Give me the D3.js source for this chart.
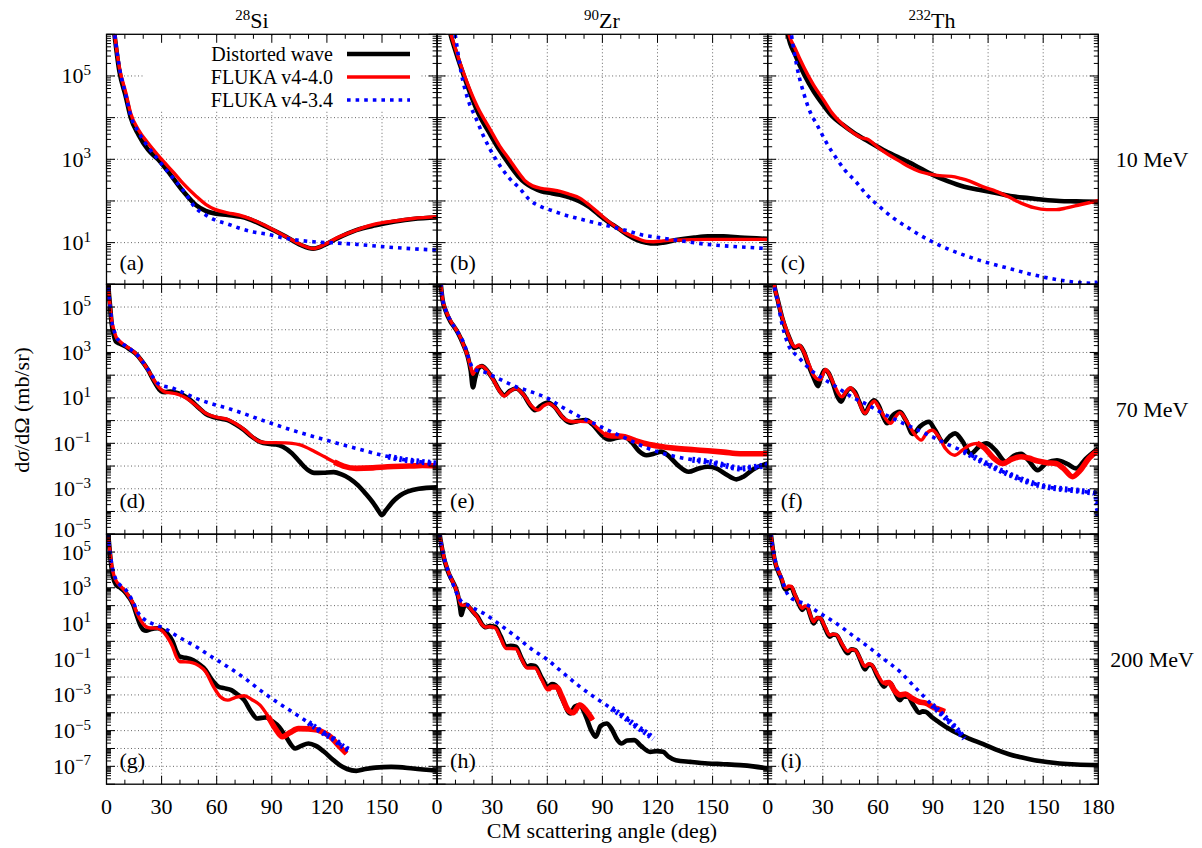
<!DOCTYPE html>
<html>
<head>
<meta charset="utf-8">
<script src="https://cdn.jsdelivr.net/npm/d3@7"></script>
<style>
  body { margin: 0; background: #fff; }
  svg { display: block; }
  text { font-family: "Liberation Serif", "DejaVu Serif", serif; fill: #000; }
</style>
</head>
<body>
<svg id="chart" width="1202" height="848" font-family="Liberation Serif, DejaVu Serif, serif"></svg>
<script>
// Elastic differential cross sections, dσ/dΩ (mb/sr) vs CM angle (deg)
// Each series: [angle, value]

// ---- 28Si, 10 MeV ----
const si10Dw = [[1.5,1e7],[4,1.3e6],[7,1.3e5],[10.5,3.2e4],[13.2,1.0e4],[17.4,3.9e3],[22.6,1.7e3],[28,1.0e3],[34.8,4.3e2],[41.8,1.7e2],[48.8,79],[54,58],[59,50],[66,46],[76.7,38],[87,24],[97.6,14],[106,8.7],[112.6,7.2],[118.5,8.7],[125.5,12.6],[136,20],[146.5,26],[157,32],[167,37],[180,40]];
const si10V40 = [[1.5,1e7],[4,1.4e6],[7,1.6e5],[10.5,4.0e4],[13.2,1.26e4],[17.4,5.1e3],[22.6,2.45e3],[28,1.26e3],[31.4,8.5e2],[36.6,4.8e2],[41.8,2.6e2],[48.8,1.3e2],[54,83],[59,63],[66,52],[72,46],[80,35],[87,25],[97.6,14],[106,8.9],[112.6,7.2],[118.5,8.9],[125.5,13],[136,20],[146.5,28],[157,33],[167,38],[180,42]];
const si10V34 = [[1.5,1e7],[4,1.4e6],[7,1.6e5],[10.5,3.5e4],[13.2,1.1e4],[17.4,4.5e3],[22.6,2.0e3],[28,1.0e3],[34.8,4.2e2],[41.8,1.8e2],[48.8,66],[54,46],[59,35],[66,28],[72.6,22],[80,18],[87,16],[97.6,12.6],[112.6,10.5],[125,9.8],[136,9.1],[157,7.6],[180,6.6]];

// ---- 90Zr, 10 MeV ----
const zr10Dw = [[3,1e7],[7.3,1e6],[10,4e5],[15,8.9e4],[22,1.4e4],[29,3.9e3],[34,1.66e3],[39.4,7.4e2],[44,4.0e2],[48,2.7e2],[52,2.1e2],[56.8,1.7e2],[62,1.55e2],[67,1.4e2],[72,1.23e2],[77.7,98],[83,71],[88,47],[93,32],[98.6,22],[104,15],[109,11.5],[114,10],[117.8,9.5],[123,10],[130,11.5],[140,13.2],[147.4,14.1],[156,14.1],[165,13.2],[180,12.3]];
const zr10V40 = [[3,1e7],[7.3,1.1e6],[10,4.5e5],[15,1e5],[22,1.8e4],[29,5.1e3],[34,2.1e3],[39.4,9.8e2],[44,5.0e2],[48,3.0e2],[52,2.3e2],[56.8,2.0e2],[62,1.86e2],[67,1.7e2],[72,1.45e2],[77.7,1.17e2],[83,79],[88,51],[93,33],[98.6,22],[104,15.8],[109,12.6],[114,10.7],[117.8,10.5],[123,11],[130,11.5],[147,12],[165,12],[180,12]];
const zr10V34 = [[5,1e7],[9.8,1e6],[13,1.26e5],[16.7,2.8e4],[21,1e4],[25.4,3.5e3],[32,1.0e3],[39.4,3.5e2],[45,2.0e2],[50,1.1e2],[56.8,72],[62,60],[69,47],[77.7,37],[86,30],[95,24],[104,19],[112.6,15],[121,13.2],[130,11.5],[147,9.1],[165,7.9],[180,7.2]];

// ---- 232Th, 10 MeV ----
const th10Dw = [[8,1e7],[11,1e6],[15,3.2e5],[19.9,1.07e5],[25,4.3e4],[30.3,2.0e4],[35,1.1e4],[40.8,6.8e3],[47,4.3e3],[54.7,2.7e3],[63,1.66e3],[72,1.07e3],[80,7.2e2],[89.6,4.3e2],[98,3.0e2],[107,2.2e2],[115,1.86e2],[124.4,1.55e2],[133,1.3e2],[142,1.17e2],[150,1.07e2],[159,1.0e2],[168,98],[180,95]];
const th10V40 = [[8,1e7],[11,1.26e6],[15,4.5e5],[19.9,1.55e5],[25,6.0e4],[30.3,2.7e4],[35,1.3e4],[40.8,6.9e3],[47,4.2e3],[51,3.3e3],[54.7,3.0e3],[58,2.3e3],[61.7,1.7e3],[67,1.2e3],[72,8.9e2],[77,6.6e2],[82.6,5.1e2],[89.6,4.3e2],[95,4.0e2],[100,3.9e2],[105,3.5e2],[110,3.0e2],[117,2.2e2],[124.4,1.7e2],[131,1.26e2],[138,89],[145,69],[152,62],[157,62],[162.7,68],[170,81],[180,1.02e2]];
const th10V34 = [[10,1e7],[12.9,1e6],[16,1.6e5],[19.9,3.5e4],[23,1.4e4],[26.8,6.8e3],[32,2.5e3],[37.3,1.07e3],[42,5.5e2],[47.7,3.0e2],[54,1.4e2],[61.7,68],[68,40],[75.6,24],[82,16],[89.6,10.5],[98,7.1],[107,5.0],[115,3.8],[124.4,2.9],[133,2.3],[142,1.8],[150,1.5],[159,1.26],[168,1.12],[178,1.05],[180,1.05]];

// ---- 28Si, 70 MeV ----
const si70Dw = [[0.5,1e7],[1,1e6],[2,1e5],[2.8,1.9e4],[4,5.6e3],[5.2,3.0e3],[7,2.5e3],[10.5,1.8e3],[13,1.3e3],[15.7,9.1e2],[19,4.5e2],[22.6,1.7e2],[26,52],[29.6,20],[32,18],[34.8,19],[38,17],[41.8,13],[46,7.6],[50.5,3.5],[54,2.0],[57.5,1.5],[61,1.26],[66,1.05],[70,0.71],[75,0.38],[79,0.2],[83.6,0.117],[88,0.095],[92.3,0.089],[96,0.071],[101,0.036],[105,0.016],[109.8,6.6e-3],[113,5.0e-3],[118,5.1e-3],[123.7,5.4e-3],[128,4.3e-3],[132.4,2.8e-3],[137,1.4e-3],[141,6.2e-4],[145,2.5e-4],[148,1.1e-4],[150,6.9e-5],[152,1.1e-4],[156.8,3.2e-4],[160,5.2e-4],[163.8,7.4e-4],[170,1.0e-3],[180,1.15e-3]];
const si70V40 = [[0.5,1e7],[1,1e6],[2,1e5],[2.8,2.5e4],[4,1e4],[5.2,4.9e3],[7,3.2e3],[10.5,1.9e3],[13,1.4e3],[15.7,9.5e2],[19,4.5e2],[22.6,1.7e2],[26,58],[29.6,24],[32,18],[34.8,16.6],[38,15],[41.8,11.5],[46,7.1],[50.5,3.5],[54,2.1],[57.5,1.6],[61,1.35],[66,1.12],[70,0.76],[75,0.4],[79,0.21],[83.6,0.117],[88,0.107],[92,0.107],[97,0.105],[101,0.1],[105,0.087],[108,0.071],[113,0.045],[118.5,0.026],[124,0.015],[129,0.01],[136,7.9e-3],[145,8.3e-3],[153,9.3e-3],[165,1.0e-2],[172,1.05e-2],[180,1.0e-2]];
const si70V34 = [[0.5,1e7],[1,1e6],[2,1e5],[2.8,2.5e4],[4,1e4],[5.2,5e3],[7,3.2e3],[10.5,1.9e3],[13,1.4e3],[15.7,9.5e2],[19,4.7e2],[22.6,1.8e2],[25,89],[27.9,44],[31,33],[34.8,29],[41,18],[48.8,9.5],[57,5.6],[66,3.5],[75,2.0],[83.6,1.12],[92,0.66],[101,0.38],[110,0.23],[118.5,0.148],[127,0.093],[136,0.06],[145,0.038],[153.4,0.026],[162,0.019],[170.8,0.0155],[180,0.0129]];

// ---- 90Zr, 70 MeV ----
const zr70Dw = [[1,6.3e6],[2,1e6],[3,2e5],[4.5,7.4e4],[7.3,2.3e4],[9.5,1.26e4],[11.5,6.9e3],[14,2.5e3],[16.7,6.5e2],[18.3,1.6e2],[19.5,29],[20.8,79],[22.5,2.0e2],[24.4,2.5e2],[27,1.66e2],[30.7,62],[34,21],[36.6,13],[39.5,20],[42.9,26],[47,14],[50.5,5],[53.3,2.9],[56.5,4.5],[60.3,6.2],[64,4],[68,1.5],[72.5,0.81],[76.5,0.95],[81.2,1.05],[85,0.63],[89.5,0.24],[93.4,0.148],[97.5,0.17],[102,0.195],[106,0.11],[110,0.045],[114,0.03],[118,0.035],[122,0.043],[126,0.028],[131,0.011],[137,5.6e-3],[142,7.6e-3],[147.4,9.3e-3],[152,7.9e-3],[157,4.5e-3],[163,2.6e-3],[167,3.5e-3],[172,7.1e-3],[180,0.0129]];
const zr70V40 = [[1,6.3e6],[2,1e6],[3,2.2e5],[4.5,7.9e4],[7.3,2.5e4],[9.5,1.3e4],[11.5,7.2e3],[14,2.6e3],[16.7,6.6e2],[18.3,2.2e2],[19.5,1.1e2],[21,1.8e2],[22.5,2.4e2],[24.4,2.5e2],[27,1.66e2],[30.7,60],[34,20],[36.6,12],[39.5,19],[42.9,26],[47,14],[51,4.8],[55,2.9],[58,4.5],[61,5.6],[65,3.2],[69,1.26],[74,0.89],[78,0.93],[83,0.89],[87,0.5],[91,0.26],[95,0.21],[99,0.21],[102,0.195],[107,0.14],[112.6,0.1],[120,0.076],[130,0.06],[140,0.052],[147.4,0.047],[156,0.041],[165,0.035],[172,0.035],[180,0.035]];
const zr70V34 = [[1,6.3e6],[2,1e6],[3,2.2e5],[4.5,7.9e4],[7.3,2.5e4],[9.5,1.3e4],[11.5,7.2e3],[15,2.1e3],[17,6.3e2],[19.5,2.0e2],[22,1.6e2],[25.4,1.4e2],[30,95],[36,56],[42.9,31],[50,20],[60.3,9.5],[68,4.0],[77.7,1.48],[86,0.71],[95,0.32],[104,0.15],[112.6,0.071],[121,0.04],[130,0.026],[139,0.019],[147.4,0.0155],[156,0.011],[165,7.8e-3],[172,8.9e-3],[180,0.011]];

// ---- 232Th, 70 MeV ----
const th70Dw = [[2,1e7],[3.5,1e6],[5.5,2e5],[7.7,3.8e4],[10,1e4],[11.5,5e3],[13,2.5e3],[14.5,1.58e3],[16,1.78e3],[17.5,1.9e3],[19.5,1.12e3],[22.6,2.3e2],[25,79],[27.5,33],[29,79],[31,1.7e2],[33,1.3e2],[35.5,44],[38,11.2],[40,6.8],[42,14],[45,26],[47.5,18],[50,6.3],[53,2.1],[55.5,5.0],[58,7.9],[60.5,4.5],[63,1.41],[65,0.76],[68,1.66],[72,2.45],[75,1.12],[79,0.26],[83,0.56],[87.8,0.89],[91,0.4],[95.8,0.11],[99,0.2],[102,0.275],[106,0.126],[110.5,0.035],[115,0.071],[119,0.1],[124,0.05],[129.6,0.0155],[134,0.028],[138,0.035],[142,0.0178],[147,6.6e-3],[152,0.0141],[157.5,0.018],[163,0.0126],[168,7.8e-3],[173,0.02],[180,0.06]];
const th70V40 = [[2,1e7],[3.5,1e6],[5.5,2e5],[7.7,4e4],[10,1.12e4],[12,4e3],[13.5,2.24e3],[15,1.78e3],[17,2.14e3],[19.5,1.12e3],[22.6,2.8e2],[25,1e2],[28.6,62],[31.5,1.78e2],[33.5,1.12e2],[36,40],[40.4,11.2],[43,20],[45,28],[48,14],[53,2.1],[55.5,4.2],[58,7.1],[61,3.2],[66.9,0.76],[69.5,1.41],[72,2.24],[75.5,1.0],[80,0.25],[83.6,0.138],[86.5,0.28],[89.6,0.38],[93,0.2],[97,0.056],[101.8,0.03],[106,0.05],[110,0.083],[114,0.1],[118,0.063],[123,0.0224],[128,0.0129],[133,0.02],[138,0.0257],[142,0.0224],[147,0.0166],[152,0.0141],[157,0.0129],[161,7.9e-3],[166,3.4e-3],[170,6.3e-3],[175,0.0224],[180,0.05]];
const th70V34 = [[2,1e7],[3.5,1e6],[5.5,1.6e5],[7.7,1.9e4],[10,4e3],[12,1.58e3],[14,1e3],[16.4,6.5e2],[20,3.2e2],[23.4,1.7e2],[30,71],[37.3,31],[45,12],[54.7,4.8],[63,2.0],[72,0.89],[80,0.45],[89.6,0.195],[98,0.089],[107,0.043],[115,0.019],[124.4,7.8e-3],[133,3.8e-3],[142,2.0e-3],[150,1.3e-3],[159,1.0e-3],[166,8.7e-4],[173,7.4e-4],[178,6.3e-4],[179.5,2.5e-4],[180,6e-5]];

// ---- 28Si, 200 MeV ----
const si200Dw = [[0.5,1e7],[1,1e6],[1.7,1.3e5],[2.5,2e4],[3.5,4.3e3],[5.2,1.45e3],[7.5,1e3],[9.8,6.2e2],[12,3.2e2],[14.6,1.1e2],[16.5,28],[18,10.2],[20,4.5],[21.6,4.0],[24,4.8],[27.9,5.4],[30.5,4.2],[33,2.8],[36,1.0],[38,0.28],[40,0.138],[43,0.12],[47,0.089],[50,0.056],[54,0.0245],[57,7.9e-3],[61,2.9e-3],[64,2.4e-3],[68,1.86e-3],[71,1.12e-3],[75,5.1e-4],[78.5,1.26e-4],[82,4.8e-5],[84.5,5.2e-5],[87,5.5e-5],[90,3.5e-5],[94,1.6e-5],[98,4.0e-6],[102.8,1.0e-6],[106,1.4e-6],[110,1.9e-6],[114,1.4e-6],[118.5,6.5e-7],[123,2.5e-7],[127,1.17e-7],[131,7.1e-8],[136,5.6e-8],[141,7.1e-8],[146.4,8.5e-8],[155,9.3e-8],[167,7.6e-8],[180,5.6e-8]];
const si200V40 = [[0.5,1e7],[1,1e6],[1.7,1.6e5],[2.5,3.2e4],[3.5,7.9e3],[5.2,2.5e3],[7.5,1.26e3],[9.8,7.1e2],[12,3.5e2],[14.6,1.26e2],[16.5,40],[18,19.5],[21.6,6.6],[24,5.6],[27.9,5.4],[30.5,3.8],[33,1.82],[36,0.5],[38,0.141],[40,0.072],[43,0.071],[47,0.063],[50,0.045],[54,0.02],[58,3.2e-3],[62,7.9e-4],[66,5.1e-4],[70,7.1e-4],[75,8.9e-4],[79,5.6e-4],[83.6,2.7e-4],[88,6.3e-5],[92,1.26e-5],[95.8,4.5e-6],[100,7.9e-6],[104.5,1.3e-5],[110,1.26e-5],[115,1.07e-5],[119,7.1e-6],[122,4.5e-6],[126,1.6e-6],[130.7,5.2e-7]];
const si200V34 = [[0.5,1e7],[1,1e6],[1.7,1.6e5],[2.5,3.5e4],[3.5,1e4],[5.2,2.8e3],[7.5,1.4e3],[10.5,7.6e2],[14,2.0e2],[17.4,37],[21,15.8],[26,8.9],[31.4,5.4],[40,1.58],[48.8,0.5],[57,0.141],[66,0.038],[75,8.9e-3],[83.6,1.86e-3],[92,4.5e-4],[101,1.15e-4],[110,2.8e-5],[118.5,6.9e-6],[124,3.2e-6],[129,1.23e-6],[132.4,7.9e-7]];

// ---- 90Zr, 200 MeV ----
const zr200Dw = [[0.5,1e7],[1.4,1e6],[2.5,2e5],[3.5,5.6e4],[5,1.6e4],[6.3,6.5e3],[8,2.8e3],[9.8,1.17e3],[11.5,3.2e2],[12.5,79],[13.2,30],[14,56],[15,1e2],[16,1.1e2],[18,71],[20,40],[22,24],[24.5,8.9],[26.5,6.2],[28.5,7.1],[31.7,6.6],[34.5,2.0],[37.6,0.5],[40,0.56],[42.9,0.5],[46,0.112],[49,0.038],[51,0.045],[53.3,0.042],[57,8.9e-3],[60.3,2.9e-3],[62.5,4.0e-3],[64.5,3.5e-3],[68,6.3e-4],[72.5,9.1e-5],[75,2.24e-4],[77.7,2.7e-4],[81,6.3e-5],[84,1e-5],[86.4,4.5e-6],[89,1.8e-5],[92.3,2.5e-5],[95,1.26e-5],[98,3.2e-6],[100.4,1.9e-6],[103.5,2.8e-6],[107.3,2.95e-6],[111,1.4e-6],[116,6.5e-7],[119.5,7.1e-7],[123,6.5e-7],[126,3.5e-7],[130,2.2e-7],[138,1.78e-7],[147.4,1.45e-7],[156,1.32e-7],[165,1.17e-7],[172,1e-7],[180,7.6e-8]];
const zr200V40 = [[0.5,1e7],[1.4,1e6],[2.5,2.2e5],[3.5,6.3e4],[5,1.8e4],[6.3,7.1e3],[8,2.8e3],[9.8,1.17e3],[11.5,3.5e2],[13,1.1e2],[14,1.05e2],[16,1.1e2],[18,71],[20,40],[22,22],[24.5,8.3],[26.5,6.2],[28.5,6.6],[31.7,5.6],[34.5,1.58],[37.6,0.4],[40,0.4],[42.9,0.38],[46,0.1],[49,0.032],[51,0.032],[53.3,0.032],[57,7.1e-3],[60.3,1.9e-3],[62.5,2.8e-3],[65,2.8e-3],[68,7.9e-4],[71,1.6e-4],[74,1e-4],[77.7,2.7e-4],[81,1.4e-4],[84.7,3.9e-5]];
const zr200V34 = [[0.5,1e7],[1.4,1e6],[2.5,2e5],[3.5,6.3e4],[5,1.8e4],[6.3,7.1e3],[8,2.5e3],[9.8,7.9e2],[11.5,3.2e2],[13.5,1.6e2],[16.7,1.1e2],[20,71],[25.4,37],[34,8.9],[42.9,1.82],[51,0.4],[60.3,0.089],[69,0.0158],[77.7,2.9e-3],[86,7.1e-4],[95,1.74e-4],[102,5.6e-5],[109,1.6e-5],[114,7.1e-6],[117.8,3.6e-6]];

// ---- 232Th, 200 MeV ----
const th200Dw = [[0.5,1e7],[1.7,1e6],[3,1e5],[4.2,2.3e4],[6,7.1e3],[7.7,2.75e3],[9,1e3],[10,7.6e2],[11.5,1e3],[12.9,1.07e3],[14.5,4.5e2],[16.4,1.66e2],[18.8,58],[20.3,83],[21.6,81],[23,32],[25,10.2],[27,20],[28.6,19.5],[31,6.3],[33.8,1.82],[35.5,2.4],[37.3,2.3],[40.5,0.63],[43.6,0.214],[45.5,0.355],[47.7,0.324],[50.5,0.089],[53,0.027],[55,0.05],[56.5,0.047],[60,0.01],[63.4,2.9e-3],[65.3,5.0e-3],[67,4.4e-3],[69.5,1.26e-3],[72,5.1e-4],[74,8.3e-4],[76.3,7.9e-4],[79.5,2.5e-4],[82.6,1e-4],[84.5,1.2e-4],[86,1.15e-4],[89.5,5.6e-5],[93,3.1e-5],[98,1.4e-5],[103.5,6.9e-6],[110,3.5e-6],[117.4,1.74e-6],[124,8.9e-7],[131.4,4.8e-7],[138,3.2e-7],[145.3,2.2e-7],[152,1.74e-7],[159,1.45e-7],[168,1.26e-7],[180,1.17e-7]];
const th200V40 = [[0.5,1e7],[1.7,1e6],[3,1.12e5],[4.2,2.5e4],[6,7.9e3],[7.7,3.2e3],[9,1.26e3],[10,1e3],[11.5,1.26e3],[12.9,1.2e3],[14.5,5e2],[16.4,1.9e2],[18.8,71],[20.3,95],[21.6,89],[23,35],[25,12.6],[27,21],[28.6,20],[31,7.1],[33.8,2.24],[35.5,2.5],[37.3,2.4],[40.5,0.71],[43.6,0.28],[45.5,0.355],[47.7,0.316],[50.5,0.1],[53,0.04],[55,0.056],[56.5,0.05],[60,0.0126],[63.4,4.5e-3],[66,5.0e-3],[69,1.78e-3],[72,1e-3],[75,1.12e-3],[78,7.1e-4],[82.6,4e-4],[86,3.5e-4],[89.6,2.2e-4],[93,1.58e-4],[96.5,1.15e-4]];
const th200V34 = [[0.5,1e7],[1.7,1e6],[3,1.26e5],[4.2,3.2e4],[6,7.9e3],[7.7,2.8e3],[9.4,9.3e2],[11,4e2],[12.9,2.6e2],[16,1.8e2],[19.9,1.35e2],[28,40],[37.3,10.2],[46,2.24],[54.7,0.5],[63,0.105],[72,0.02],[80,2.8e-3],[89.6,2.7e-4],[95,7.9e-5],[100,2.5e-5],[104,8.9e-6],[107,3.6e-6]];

// Angle above which the Monte Carlo curves get statistically rough
// [FLUKA v4-4.0, FLUKA v4-3.4], per panel
const roughFrom = [
  [181, 181], [181, 181], [181, 181],
  [128, 150], [95, 135], [118, 110],
  [90, 108], [62, 95], [66, 88]
];

// ---- labels ----
const nuclei = [{mass: "28", sym: "Si"}, {mass: "90", sym: "Zr"}, {mass: "232", sym: "Th"}];
const energies = ["10 MeV", "70 MeV", "200 MeV"];
const panelTags = ["(a)", "(b)", "(c)", "(d)", "(e)", "(f)", "(g)", "(h)", "(i)"];
const seriesNames = ["Distorted wave", "FLUKA v4-4.0", "FLUKA v4-3.4"];
const rowDomains = [[1, 1e6], [1e-5, 1e6], [1e-8, 1e6]];
const rowLabelExps = [[5, 3, 1], [5, 3, 1, -1, -3, -5], [5, 3, 1, -1, -3, -5, -7]];
const xTickLabels = [0, 30, 60, 90, 120, 150, 180];

const panelData = [
  [si10Dw, si10V40, si10V34], [zr10Dw, zr10V40, zr10V34], [th10Dw, th10V40, th10V34],
  [si70Dw, si70V40, si70V34], [zr70Dw, zr70V40, zr70V34], [th70Dw, th70V40, th70V34],
  [si200Dw, si200V40, si200V34], [zr200Dw, zr200V40, zr200V34], [th200Dw, th200V40, th200V34]
];

// ---- layout ----
const svg = d3.select("#chart");
const plotLeft = 106.5, colW = 330.6;
const rowBox = [[34.3, 284.3], [284.3, 534.2], [534.2, 784.2]];
const titleX = [252, 602, 932];
const tagBaseline = [270, 508, 768];
const FS = 22;

const styles = [
  {stroke: "#000", width: 4.6, dash: null},
  {stroke: "#f00", width: 3.4, dash: null},
  {stroke: "#00f", width: 3.6, dash: "3.6,5"}
];

const sup = (sel, base, exp, size) => {
  sel.append("tspan").text(base);
  sel.append("tspan").attr("dy", -8.5).attr("font-size", size).text(exp);
};

const defs = svg.append("defs");
const gridLayer = svg.append("g");
const legendLayer = svg.append("g");
const curveLayer = svg.append("g");
const axisLayer = svg.append("g");

const xs = [], ys = [];
for (let c = 0; c < 3; c++) {
  xs.push(d3.scaleLinear().domain([0, 180]).range([plotLeft + c * colW, plotLeft + (c + 1) * colW]));
}
for (let r = 0; r < 3; r++) {
  ys.push(d3.scaleLog().domain(rowDomains[r]).range([rowBox[r][1], rowBox[r][0]]));
}

for (let r = 0; r < 3; r++) {
  const y = ys[r];
  const [lo, hi] = rowDomains[r].map(v => Math.round(Math.log10(v)));
  for (let c = 0; c < 3; c++) {
    const x = xs[c];
    const x0 = x(0), x1 = x(180), y0 = y.range()[0], y1 = y.range()[1];
    const idx = r * 3 + c;

    // dotted grid
    for (let e = lo + 1; e < hi; e++) {
      gridLayer.append("line")
        .attr("x1", x0).attr("x2", x1).attr("y1", y(Math.pow(10, e))).attr("y2", y(Math.pow(10, e)))
        .attr("stroke", "#666").attr("stroke-width", 1).attr("stroke-dasharray", "1,2.5");
    }
    for (let a = 30; a < 180; a += 30) {
      gridLayer.append("line")
        .attr("x1", x(a)).attr("x2", x(a)).attr("y1", y0).attr("y2", y1)
        .attr("stroke", "#666").attr("stroke-width", 1).attr("stroke-dasharray", "1,2.5");
    }

    // curves: distorted wave first, then the two FLUKA versions on top
    const clipId = "clip" + idx;
    defs.append("clipPath").attr("id", clipId)
      .append("rect").attr("x", x0).attr("y", y1).attr("width", x1 - x0).attr("height", y0 - y1);
    const line = d3.line().x(d => x(d[0])).y(d => y(d[1])).curve(d3.curveMonotoneX);
    const g = curveLayer.append("g").attr("clip-path", `url(#${clipId})`);
    [0, 1, 2].forEach(s => {
      const st = styles[s];
      const pts = panelData[idx][s];
      g.append("path").datum(pts)
        .attr("d", line).attr("fill", "none")
        .attr("stroke", st.stroke).attr("stroke-width", st.width)
        .attr("stroke-dasharray", st.dash).attr("stroke-linejoin", "round");
      if (s > 0) {
        // statistically rough tail drawn as a wider band
        const from = roughFrom[idx][s - 1];
        const tail = pts.filter(d => d[0] >= from - 4);
        if (tail.length > 1) {
          g.append("path").datum(tail)
            .attr("d", line).attr("fill", "none")
            .attr("stroke", st.stroke).attr("stroke-width", s === 1 ? 5.6 : 6)
            .attr("stroke-dasharray", s === 1 ? null : "2.5,3.2")
            .attr("stroke-linejoin", "round");
        }
      }
    });

    // frame
    axisLayer.append("rect").attr("x", x0).attr("y", y1).attr("width", x1 - x0).attr("height", y0 - y1)
      .attr("fill", "none").attr("stroke", "#000").attr("stroke-width", 1.3);

    // x ticks (top and bottom)
    for (let a = 0; a <= 180; a += 10) {
      const len = a % 30 === 0 ? 8.5 : 4.5;
      axisLayer.append("line").attr("x1", x(a)).attr("x2", x(a)).attr("y1", y0).attr("y2", y0 - len)
        .attr("stroke", "#000").attr("stroke-width", 1);
      axisLayer.append("line").attr("x1", x(a)).attr("x2", x(a)).attr("y1", y1).attr("y2", y1 + len)
        .attr("stroke", "#000").attr("stroke-width", 1);
    }
    // y ticks (left and right), log minors
    for (let e = lo; e <= hi; e++) {
      for (let k = 1; k <= 9; k++) {
        const v = k * Math.pow(10, e);
        if (v > rowDomains[r][1] * 1.0001) break;
        const len = k === 1 ? 8.5 : 4.5;
        const yy = y(v);
        axisLayer.append("line").attr("x1", x0).attr("x2", x0 + len).attr("y1", yy).attr("y2", yy)
          .attr("stroke", "#000").attr("stroke-width", 1);
        axisLayer.append("line").attr("x1", x1).attr("x2", x1 - len).attr("y1", yy).attr("y2", yy)
          .attr("stroke", "#000").attr("stroke-width", 1);
      }
    }

    // panel tag
    axisLayer.append("text").attr("x", x0 + 13).attr("y", tagBaseline[r])
      .attr("font-size", FS).text(panelTags[idx]);

    // x tick labels on bottom row
    if (r === 2) {
      xTickLabels.filter(a => a < 180 || c === 2).forEach(a => {
        axisLayer.append("text").attr("x", x(a)).attr("y", 814)
          .attr("text-anchor", "middle").attr("font-size", FS).text(a);
      });
    }
  }

  // y tick labels (the one on a row's lower edge is nudged up to clear the next row)
  rowLabelExps[r].forEach(e => {
    const v = Math.pow(10, e);
    const atEdge = Math.abs(Math.log10(v) - Math.log10(rowDomains[r][0])) < 1e-9;
    const t = axisLayer.append("text").attr("x", 91).attr("y", y(v) + (atEdge ? 3 : 7.5))
      .attr("text-anchor", "end").attr("font-size", FS);
    sup(t, "10", String(e).replace("-", "\u2212"), 15);
  });

  // energy label
  axisLayer.append("text").attr("x", 1152).attr("y", (rowBox[r][0] + rowBox[r][1]) / 2 + 7.5)
    .attr("text-anchor", "middle").attr("font-size", FS).text(energies[r]);
}

// column titles
nuclei.forEach((n, c) => {
  const t = axisLayer.append("text").attr("x", titleX[c]).attr("y", 28)
    .attr("text-anchor", "middle").attr("font-size", FS);
  t.append("tspan").attr("font-size", 15).attr("dy", -8.5).text(n.mass);
  t.append("tspan").attr("dy", 8.5).text(n.sym);
});

// axis titles
axisLayer.append("text").attr("x", 602).attr("y", 838).attr("text-anchor", "middle")
  .attr("font-size", FS).text("CM scattering angle (deg)");
const yt = axisLayer.append("text").attr("transform", "translate(29,410) rotate(-90)")
  .attr("text-anchor", "middle").attr("font-size", FS);
yt.append("tspan").text("d");
yt.append("tspan").attr("font-style", "italic").text("σ");
yt.append("tspan").text("/dΩ (mb/sr)");

// legend (inside panel a)
legendLayer.append("rect").attr("x", 143).attr("y", 36).attr("width", 278).attr("height", 74).attr("fill", "#fff");
const legY = [54, 77, 100];
seriesNames.forEach((name, i) => {
  legendLayer.append("text").attr("x", 333).attr("y", legY[i] + 7).attr("text-anchor", "end")
    .attr("font-size", 20).text(name);
  legendLayer.append("line").attr("x1", 347).attr("x2", 410).attr("y1", legY[i]).attr("y2", legY[i])
    .attr("stroke", styles[i].stroke).attr("stroke-width", styles[i].width)
    .attr("stroke-dasharray", styles[i].dash);
});
</script>
</body>
</html>
